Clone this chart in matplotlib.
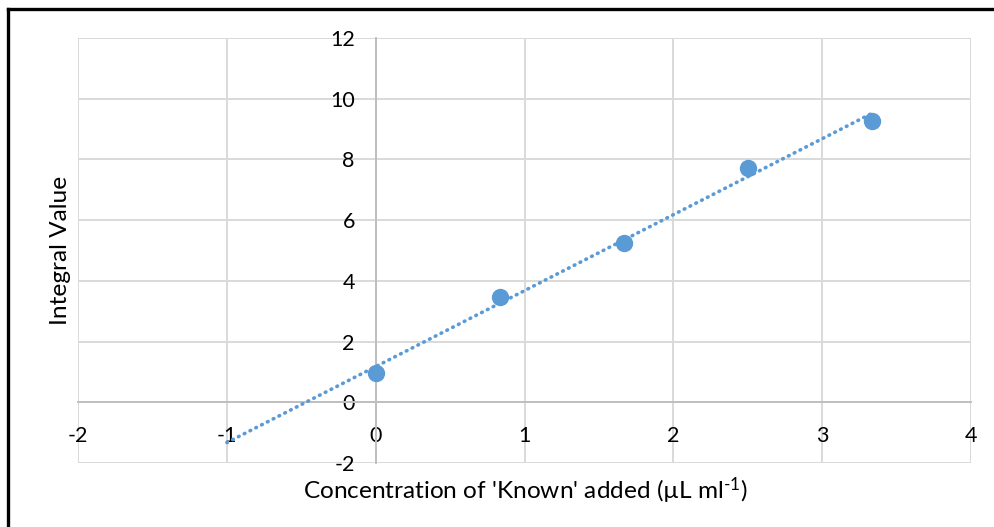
import matplotlib.pyplot as plt
import matplotlib.lines as mlines
import numpy as np

plt.rcParams['font.family'] = 'Lato'
plt.rcParams['mathtext.fontset'] = 'custom'
plt.rcParams['mathtext.rm'] = 'Lato'
plt.rcParams['mathtext.it'] = 'Lato'

# standard additions: concentration of 'Known' vs integral
conc = [0.0, 0.833, 1.667, 2.5, 3.333]
integral = [0.98, 3.48, 5.26, 7.73, 9.28]
xticks = [-2, -1, 0, 1, 2, 3, 4]
yticks = [-2, 0, 2, 4, 6, 8, 10, 12]

blue = '#5b9bd5'
grid_c = '#d9d9d9'
axis_c = '#bfbfbf'

fig = plt.figure(figsize=(9.94, 5.27), dpi=100)
ax = fig.add_axes([0.0785, 0.1214, 0.8984, 0.8065])

# linear trendline, extended back by one unit
slope, icpt = np.polyfit(conc, integral, 1)
xt = np.array([conc[0] - 1, conc[-1]])
ax.plot(xt, slope * xt + icpt, color=blue, lw=2.6, ls=(0, (0.2, 1.6)),
        dash_capstyle='round', zorder=3)
ax.plot(conc, integral, 'o', color=blue, ms=11.5, mec=blue, zorder=4)

ax.set_xlim(-2, 4)
ax.set_ylim(-2, 12)
ax.set_xticks(xticks)
ax.set_yticks(yticks)
ax.grid(True, color=grid_c, lw=1.4, zorder=0)
ax.set_axisbelow(True)

for s in ['top', 'right']:
    ax.spines[s].set_visible(False)
ax.spines['left'].set_position(('data', 0))
ax.spines['bottom'].set_position(('data', 0))
for s in ['left', 'bottom']:
    ax.spines[s].set_color(axis_c)
    ax.spines[s].set_linewidth(1.4)
    ax.spines[s].set_zorder(1)
ax.tick_params(length=0, labelsize=15.5, colors='#000000')
ax.tick_params(axis='y', pad=15)
ax.tick_params(axis='x', pad=17)
ax.set_xticklabels([str(t) for t in xticks])
ax.set_yticklabels([str(t) for t in yticks])

fig.text(0.061, 0.524, 'Integral Value', rotation=90, fontsize=17.6,
         ha='center', va='center')
fig.text(0.528, 0.069, "Concentration of 'Known' added (µL ml$^{\\text{-}1}$)",
         fontsize=17.6, ha='center', va='center')

# frame around the chart
fig.add_artist(mlines.Line2D([0.008, 0.999], [0.983, 0.983], color='black', lw=2.4))
fig.add_artist(mlines.Line2D([0.008, 0.008], [0.0, 0.983], color='black', lw=2.4))

fig.savefig('out.png', dpi=100)
